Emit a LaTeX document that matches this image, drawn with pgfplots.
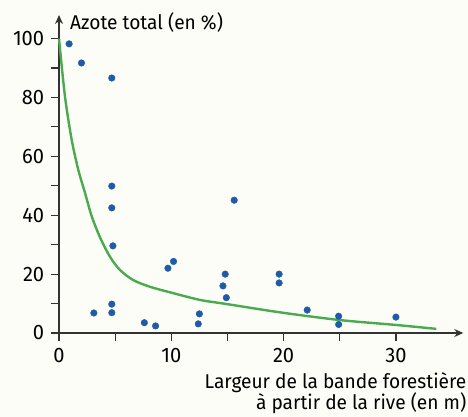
\documentclass[border=0pt]{standalone}
\usepackage{fontspec}
\setmainfont{Fira Sans}[FakeStretch=0.96]
\usepackage{pgfplots}
\pgfplotsset{compat=1.18}
\usetikzlibrary{backgrounds,arrows.meta}
\definecolor{bg}{HTML}{FDFDF8}
\definecolor{dotblue}{HTML}{1F5BA6}
\definecolor{curvegreen}{HTML}{4BAA4F}
\definecolor{axisgray}{HTML}{333333}
\begin{document}
\fontsize{20}{24}\selectfont
\begin{tikzpicture}
\begin{axis}[
  scale only axis, width=404.3bp, height=318bp,
  xmin=0, xmax=36, ymin=0, ymax=108,
  axis lines=left,
  axis line style={axisgray, line width=1.4bp, -{Stealth[length=9bp,width=8bp]}},
  xtick={0,10,20,30}, minor xtick={5,15,25},
  ytick={0,20,...,100}, minor ytick={10,30,...,90},
  tick align=outside, major tick length=8bp, minor tick length=8bp,
  every tick/.style={axisgray, line width=1.2bp},
  minor tick style={axisgray, line width=1.2bp},
  /pgf/number format/assume math mode=true,
  tick label style={font=\fontsize{21}{24}\selectfont, text=black},
  clip=false,
]
\addplot[only marks, mark=*, mark size=3.3bp, mark options={fill=dotblue, draw=dotblue}] coordinates {
 (0.9,98.2) (2.0,91.7) (4.7,86.6) (4.7,49.9) (4.7,42.5) (4.8,29.6)
 (3.1,6.8) (4.7,9.8) (4.7,6.9) (7.6,3.5) (8.6,2.4) (9.7,22.0) (10.2,24.3)
 (12.5,6.5) (12.4,3.1) (14.6,16.0) (14.8,20.0) (14.9,12.0) (15.6,45.1)
 (19.6,20.0) (19.6,17.0) (22.1,7.8) (24.9,5.7) (24.9,2.9) (30.0,5.4)
};
\addplot[curvegreen, line width=2.4bp, smooth, tension=0.5] coordinates {
 (0,100) (0.53,80.4) (1.13,65.6) (1.72,55.4) (2.3,47.8) (2.9,39.8) (3.65,32.5)
 (4.54,25.9) (5.43,21.4) (6.6,18.0) (8.1,15.7) (10.2,13.5) (12.6,11.2)
 (14.9,9.85) (19.7,7.0) (25,4.4) (30.1,2.7) (33.6,1.4)
};
\coordinate (O) at (axis cs:0,0);
\end{axis}
\node[anchor=base west, inner sep=0pt] at ([xshift=11bp, yshift=303bp]O) {Azote total (en \%)};
\node[anchor=base east, inner sep=0pt] at ([xshift=407.5bp, yshift=-55bp]O) {Largeur de la bande forestière};
\node[anchor=base east, inner sep=0pt] at ([xshift=407.5bp, yshift=-76bp]O) {à partir de la rive (en m)};
\pgfresetboundingbox
\path ([xshift=-59bp, yshift=-84bp]O) rectangle ([xshift=409bp, yshift=333bp]O);
\begin{scope}[on background layer]
\fill[bg] ([xshift=-59bp, yshift=-84bp]O) rectangle ([xshift=409bp, yshift=333bp]O);
\end{scope}
\end{tikzpicture}
\end{document}
